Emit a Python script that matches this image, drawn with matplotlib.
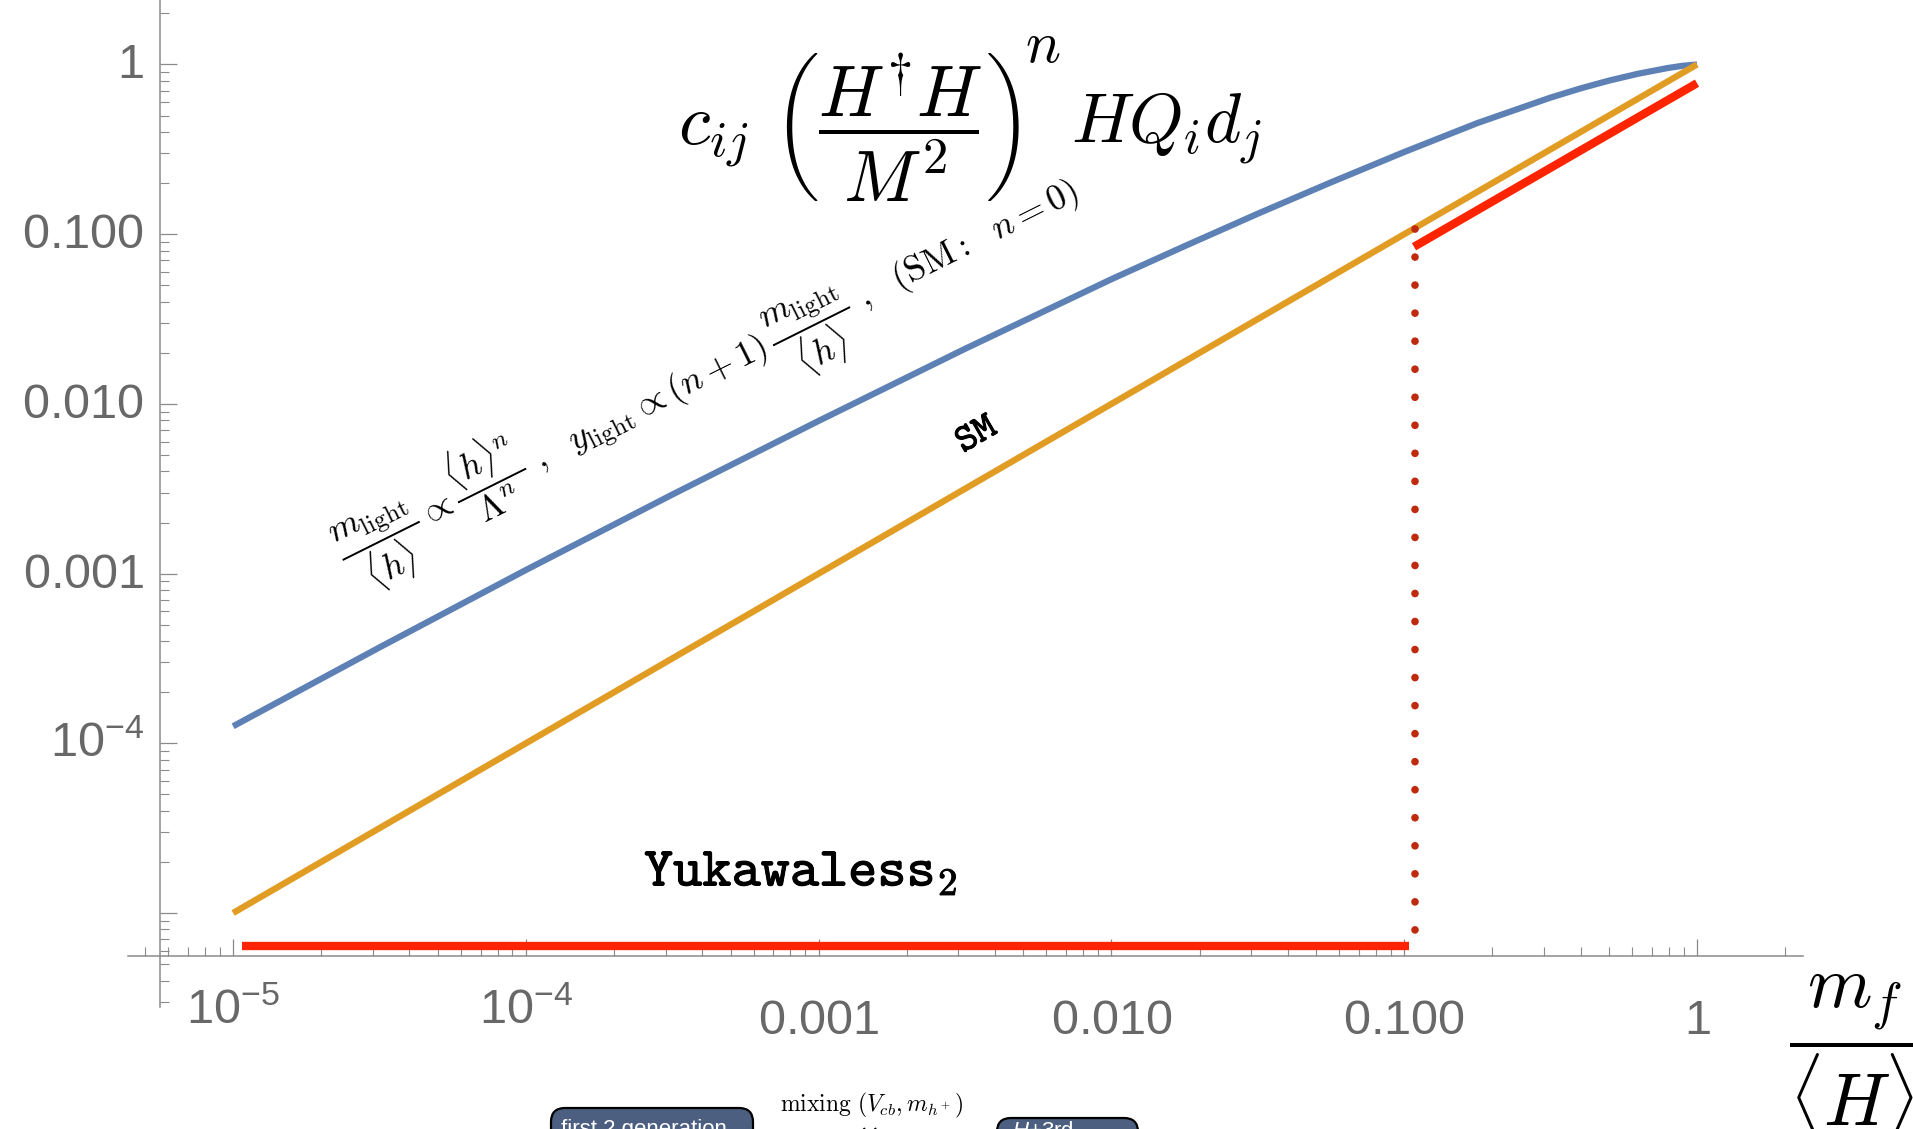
import matplotlib
matplotlib.use("Agg")
import matplotlib.pyplot as plt
import matplotlib.patheffects as pe
from matplotlib.patches import FancyBboxPatch
from matplotlib.ticker import FixedLocator, LogLocator, NullFormatter

W, H, DPI = 1913, 1129, 100

# ---- data -------------------------------------------------------------
# generic operator c_ij (H^+H/M^2)^n H Q_i d_j
x_blue = [1e-5, 3.16e-5, 1e-4, 3.16e-4, 1e-3, 3.16e-3, 0.01, 0.0178,
          0.0316, 0.0562, 0.1, 0.178, 0.316, 0.398, 0.501, 0.631, 0.794,
          0.891, 1.0]
y_blue = [1.26e-4, 3.67e-4, 1.05e-3, 2.92e-3, 7.94e-3, 0.0211, 0.0543,
          0.0851, 0.132, 0.202, 0.305, 0.452, 0.638, 0.721, 0.804, 0.883,
          0.953, 0.982, 1.0]
# Standard Model: y = m_f / <H>
x_sm = [1e-5, 1.0]
y_sm = [1e-5, 1.0]
# Yukawaless_2: light generations vs third generation
x_yl_low = [1.07e-5, 0.104]
y_yl_low = [6.4e-6, 6.4e-6]
x_yl_high = [0.108, 1.0]
y_yl_high = [0.0843, 0.776]
# separation between the two regimes
x_cut = [0.109, 0.109]
y_cut = [0.107, 5.5e-6]

xticks = [1e-5, 1e-4, 1e-3, 1e-2, 1e-1, 1.0]
xtick_labels = [r"$10^{-5}$", r"$10^{-4}$", "$0.001$", "$0.010$", "$0.100$", "$1$"]
yticks = [1e-5, 1e-4, 1e-3, 1e-2, 1e-1, 1.0]
ytick_labels = ["", r"$10^{-4}$", "$0.001$", "$0.010$", "$0.100$", "$1$"]

# ---- style ------------------------------------------------------------
plt.rcParams["mathtext.fontset"] = "cm"
plt.rcParams["mathtext.rm"] = "Liberation Sans"
plt.rcParams["mathtext.it"] = "Liberation Sans:italic"
plt.rcParams["mathtext.bf"] = "Liberation Sans:bold"
plt.rcParams["mathtext.sf"] = "Liberation Sans"
AX_GRAY = "#8a8a8a"
LAB_GRAY = "#686868"
BLUE, ORANGE, RED, DARKRED = "#5E81B5", "#E19C24", "#FF2400", "#BF2A0E"

fig = plt.figure(figsize=(W / DPI, H / DPI), dpi=DPI)
ax = fig.add_axes([128 / W, 1 - 1007 / H, (1803 - 128) / W, 1007 / H])
ax.set_xscale("log")
ax.set_yscale("log")
ax.set_xlim(10 ** -5.359, 10 ** 0.362)
ax.set_ylim(10 ** -5.554, 10 ** 0.380)

x_origin, y_origin = 10 ** -5.249, 10 ** -5.252
for s in ("top", "right"):
    ax.spines[s].set_visible(False)
ax.spines["left"].set_position(("data", x_origin))
ax.spines["bottom"].set_position(("data", y_origin))
for s in ("left", "bottom"):
    ax.spines[s].set_color(AX_GRAY)
    ax.spines[s].set_linewidth(1.1)

ax.xaxis.set_major_locator(FixedLocator(xticks))
ax.yaxis.set_major_locator(FixedLocator(yticks))
for a in (ax.xaxis, ax.yaxis):
    a.set_minor_locator(LogLocator(base=10, subs=range(2, 10), numticks=100))
    a.set_minor_formatter(NullFormatter())
ax.tick_params(which="major", direction="in", length=12, width=0.9,
               color=AX_GRAY, labelbottom=False, labelleft=False)
ax.tick_params(which="minor", direction="in", length=6.3, width=0.8,
               color=AX_GRAY)

# ---- curves -----------------------------------------------------------
ax.plot(x_blue, y_blue, color=BLUE, lw=4.5, solid_capstyle="butt",
        solid_joinstyle="round", zorder=3)
ax.plot(x_sm, y_sm, color=ORANGE, lw=4.6, solid_capstyle="butt", zorder=4)
ax.plot(x_yl_low, y_yl_low, color=RED, lw=6.0, solid_capstyle="butt", zorder=5)
ax.plot(x_yl_high, y_yl_high, color=RED, lw=6.0, solid_capstyle="butt", zorder=5)
ax.plot(x_cut, y_cut, color=DARKRED, lw=5.5, linestyle=(0, (0.01, 3.66)),
        dash_capstyle="round", zorder=6)

# ---- tick labels ------------------------------------------------------
for v, lab in zip(xticks, xtick_labels):
    off = 49 if "^" in lab else 56
    ax.annotate(lab, xy=(v, y_origin), xycoords="data", xytext=(0, -off),
                textcoords="offset points", ha="center", va="baseline",
                fontsize=35, color=LAB_GRAY, math_fontfamily="custom")
for v, lab in zip(yticks, ytick_labels):
    if not lab:
        continue
    ax.annotate(lab, xy=(x_origin, v), xycoords="data", xytext=(-11.5, 0),
                textcoords="offset points", ha="right", va="center",
                fontsize=35, color=LAB_GRAY, math_fontfamily="custom")

# ---- annotations ------------------------------------------------------
def fx(px):
    return px / W


def fy(py):
    return 1 - py / H


# operator, written in three pieces so the exponent sits at the bracket top
fig.text(fx(678), fy(144),
         r"$c_{ij}\ \left(\dfrac{H^{\dagger}H}{M^2}\right)$",
         fontsize=52, ha="left", va="baseline")
fig.text(fx(1025), fy(62), r"$n$", fontsize=42, ha="left", va="baseline")
fig.text(fx(1071), fy(144), r"$HQ_id_j$", fontsize=50, ha="left",
         va="baseline")

fig.text(fx(710), fy(376),
         r"$\dfrac{m_{\mathrm{light}}}{\langle h\rangle}\propto"
         r"\dfrac{\langle h\rangle^n}{\Lambda^n}\ ,\ \ y_{\mathrm{light}}\propto"
         r"(n+1)\,\dfrac{m_{\mathrm{light}}}{\langle h\rangle}\ ,\ \ "
         r"(\mathrm{SM}{:}\ \ n=0)$",
         fontsize=26, rotation=26.5, rotation_mode="anchor",
         ha="center", va="center")

stroke = [pe.withStroke(linewidth=0.7, foreground="black")]
fig.text(fx(976), fy(433), r"$\mathtt{SM}$", fontsize=28, rotation=30,
         rotation_mode="anchor", ha="center", va="center",
         path_effects=stroke)
fig.text(fx(644), fy(886), r"$\mathtt{Yukawaless}_{\mathsf{2}}$", fontsize=40,
         ha="left", va="baseline", path_effects=stroke)

fig.text(fx(1855), fy(1059), r"$\dfrac{m_f}{\langle H\rangle}$", fontsize=53,
         ha="center", va="center")

# ---- lower panel (partly outside the canvas) --------------------------
inch = fig.dpi_scale_trans
BOX = "#4c5f80"
fig.add_artist(FancyBboxPatch((5.51, -0.31), 2.02, 0.52,
                              boxstyle="round,pad=0,rounding_size=0.14",
                              transform=inch, fc=BOX, ec="black", lw=1.6))
fig.add_artist(FancyBboxPatch((9.97, -0.41), 1.41, 0.52,
                              boxstyle="round,pad=0,rounding_size=0.14",
                              transform=inch, fc=BOX, ec="black", lw=1.6))
fig.text(5.61, (H - 1135) / DPI, "first 2 generation", transform=inch,
         fontsize=16, color="white", family="Liberation Sans",
         ha="left", va="baseline")
fig.text(10.12, (H - 1137) / DPI, "$H$+3rd", transform=inch,
         fontsize=16, color="white", family="Liberation Sans",
         math_fontfamily="custom", ha="left", va="baseline")
fig.text(8.72, (H - 1111) / DPI, r"$\mathrm{mixing}\ (V_{cb}, m_{h^+})$",
         transform=inch, fontsize=17, ha="center", va="baseline")
fig.text(8.69, (H - 1149) / DPI, "\u2716", transform=inch, fontsize=22,
         family="DejaVu Sans", ha="center", va="baseline")

fig.savefig("out.png", dpi=DPI)
